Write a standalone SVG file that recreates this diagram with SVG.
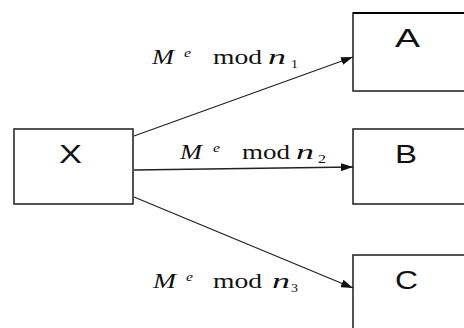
<svg xmlns="http://www.w3.org/2000/svg" width="464" height="328" viewBox="0 0 464 328">
<defs>
<style>
.box{fill:#fff;stroke:#2a2a2a;stroke-width:1.6}
.lbl{font-family:"Liberation Sans",Arial,sans-serif;font-size:25px;fill:#111}
.m{font-family:"Liberation Serif","Times New Roman",serif;font-size:21px;fill:#111}
.i{font-style:italic}
.s{font-size:13px}
.edge{stroke:#222;stroke-width:1.3;fill:none}
</style>
<marker id="ah" viewBox="0 0 12 8" refX="12" refY="4" markerWidth="12" markerHeight="8" markerUnits="userSpaceOnUse" orient="auto">
<path d="M0,0 L12,4 L0,8 z" fill="#111"/>
</marker>
</defs>
<rect width="464" height="328" fill="#fff"/>
<g id="X">
<rect class="box" x="14" y="129" width="119" height="75"/>
<text class="lbl" x="59" y="163" textLength="23" lengthAdjust="spacingAndGlyphs">X</text>
</g>
<g id="A">
<rect class="box" x="353" y="13" width="130" height="78"/>
<line x1="353" y1="13" x2="464" y2="13" stroke="#000" stroke-width="2"/>
<text class="lbl" x="395" y="47" textLength="25" lengthAdjust="spacingAndGlyphs">A</text>
</g>
<g id="B">
<rect class="box" x="353" y="129" width="130" height="75"/>
<text class="lbl" x="395" y="163" textLength="22" lengthAdjust="spacingAndGlyphs">B</text>
</g>
<g id="C">
<rect class="box" x="353" y="255" width="130" height="100"/>
<text class="lbl" x="395" y="289" textLength="23" lengthAdjust="spacingAndGlyphs">C</text>
</g>
<g id="connectors">
<line class="edge" x1="134" y1="136" x2="353" y2="57" marker-end="url(#ah)"/>
<line class="edge" x1="134" y1="170" x2="353" y2="167" marker-end="url(#ah)"/>
<line class="edge" x1="134" y1="197" x2="353" y2="288" marker-end="url(#ah)"/>
</g>
<g id="labels">
<text class="m i" x="152" y="64" textLength="22" lengthAdjust="spacingAndGlyphs">M</text>
<text class="m i s" x="184" y="57" textLength="7" lengthAdjust="spacingAndGlyphs">e</text>
<text class="m" x="213" y="64" textLength="49" lengthAdjust="spacingAndGlyphs">mod</text>
<text class="m i" x="268" y="64" textLength="18" lengthAdjust="spacingAndGlyphs">n</text>
<text class="m s" x="291" y="68" textLength="7" lengthAdjust="spacingAndGlyphs">1</text>

<text class="m i" x="180" y="159" textLength="22" lengthAdjust="spacingAndGlyphs">M</text>
<text class="m i s" x="213" y="152" textLength="7" lengthAdjust="spacingAndGlyphs">e</text>
<text class="m" x="242" y="159" textLength="48" lengthAdjust="spacingAndGlyphs">mod</text>
<text class="m i" x="296" y="159" textLength="18" lengthAdjust="spacingAndGlyphs">n</text>
<text class="m s" x="318" y="163" textLength="8" lengthAdjust="spacingAndGlyphs">2</text>

<text class="m i" x="153" y="288" textLength="23" lengthAdjust="spacingAndGlyphs">M</text>
<text class="m i s" x="186" y="281" textLength="7" lengthAdjust="spacingAndGlyphs">e</text>
<text class="m" x="213" y="288" textLength="49" lengthAdjust="spacingAndGlyphs">mod</text>
<text class="m i" x="272" y="288" textLength="18" lengthAdjust="spacingAndGlyphs">n</text>
<text class="m s" x="291" y="292" textLength="7" lengthAdjust="spacingAndGlyphs">3</text>
</g>
</svg>
